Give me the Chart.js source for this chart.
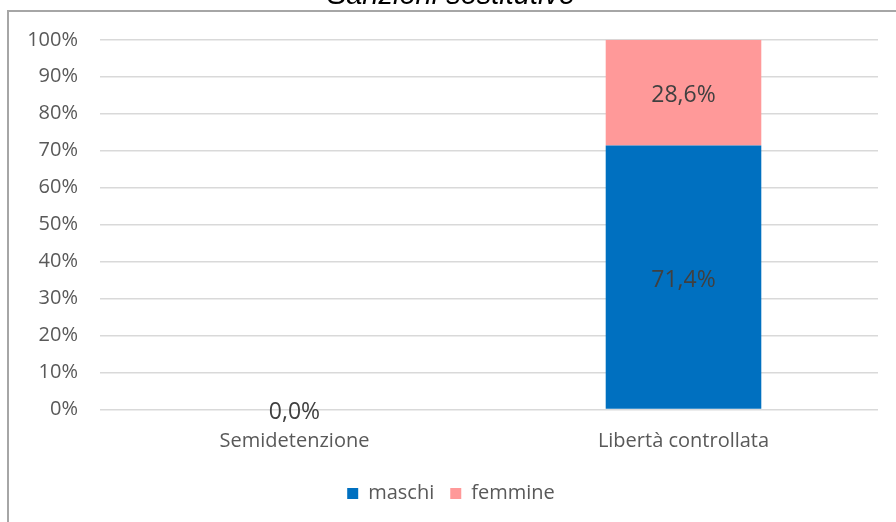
<!DOCTYPE html>
<html>
<head>
<meta charset="utf-8">
<script src="https://cdn.jsdelivr.net/npm/chart.js@4"></script>
<style>
  html, body { margin: 0; padding: 0; background: #fff; overflow: hidden; }
  /* outer chart frame, cut off on the right and bottom like the screenshot */
  #frame { position: absolute; left: 7px; top: 10px; width: 960px; height: 600px; border: 2px solid #a6a6a6; }
  #wrap { position: absolute; left: 0; top: -21px; width: 896px; height: 543px; }
</style>
</head>
<body>
<div id="frame"></div>
<div id="wrap"><canvas id="chart"></canvas></div>
<script>
const titleText = 'Sanzioni sostitutive';
const categories = ['Semidetenzione', 'Libertà controllata'];
const maschi = [0, 71.4];
const femmine = [0, 28.6];
const yTicks = [0, 10, 20, 30, 40, 50, 60, 70, 80, 90, 100];

const FONT = '"Open Sans", "Noto Sans", sans-serif';

// value labels in the middle of each bar segment
const barLabels = {
    id: 'barLabels',
    afterDatasetsDraw(chart) {
        const ctx = chart.ctx;
        const seen = new Set();
        ctx.save();
        ctx.font = '23px ' + FONT;
        ctx.fillStyle = '#404040';
        ctx.textAlign = 'center';
        ctx.textBaseline = 'middle';
        chart.data.datasets.forEach((ds, i) => {
            chart.getDatasetMeta(i).data.forEach((bar, j) => {
                const p = bar.getCenterPoint();
                const key = Math.round(p.x) + ',' + Math.round(p.y);
                if (seen.has(key)) return;
                seen.add(key);
                ctx.fillText(ds.data[j].toFixed(1).replace('.', ',') + '%', p.x, p.y + 3);
            });
        });
        ctx.restore();
    }
};

const ctx = document.getElementById('chart').getContext('2d');
const chart = new Chart(ctx, {
    type: 'bar',
    data: {
        labels: categories,
        datasets: [{
            label: 'maschi',
            data: maschi,
            backgroundColor: '#0070c0',
            borderWidth: 0,
            barPercentage: 0.4,
            categoryPercentage: 1
        }, {
            label: 'femmine',
            data: femmine,
            backgroundColor: '#ff9999',
            borderWidth: 0,
            barPercentage: 0.4,
            categoryPercentage: 1
        }]
    },
    options: {
        responsive: true,
        maintainAspectRatio: false,
        animation: false,
        layout: { padding: { left: 24, right: 18, top: 0, bottom: 8.5 } },
        plugins: {
            title: {
                display: true,
                text: titleText,
                color: '#000',
                font: { family: '"Liberation Sans", Arial, sans-serif', size: 29, style: 'italic', weight: 'normal' },
                padding: { top: 0, bottom: 26 }
            },
            legend: {
                position: 'bottom',
                labels: {
                    boxWidth: 11,
                    boxHeight: 11,
                    padding: 16,
                    color: '#595959',
                    font: { family: FONT, size: 20 }
                }
            },
            tooltip: { enabled: false }
        },
        scales: {
            x: {
                stacked: true,
                grid: { display: false },
                border: { display: false },
                ticks: { color: '#595959', padding: 12, font: { family: FONT, size: 20 } },
                afterFit: s => { s.height = 58; }
            },
            y: {
                stacked: true,
                min: 0,
                max: 100,
                afterBuildTicks: s => { s.ticks = yTicks.map(v => ({ value: v })); },
                grid: { color: '#d9d9d9', lineWidth: 1.5, drawTicks: false },
                border: { display: false },
                ticks: {
                    color: '#595959',
                    padding: 22,
                    font: { family: FONT, size: 20 },
                    callback: v => v + '%'
                },
                afterFit: s => { s.width = 76; }
            }
        }
    },
    plugins: [barLabels]
});
</script>
</body>
</html>
